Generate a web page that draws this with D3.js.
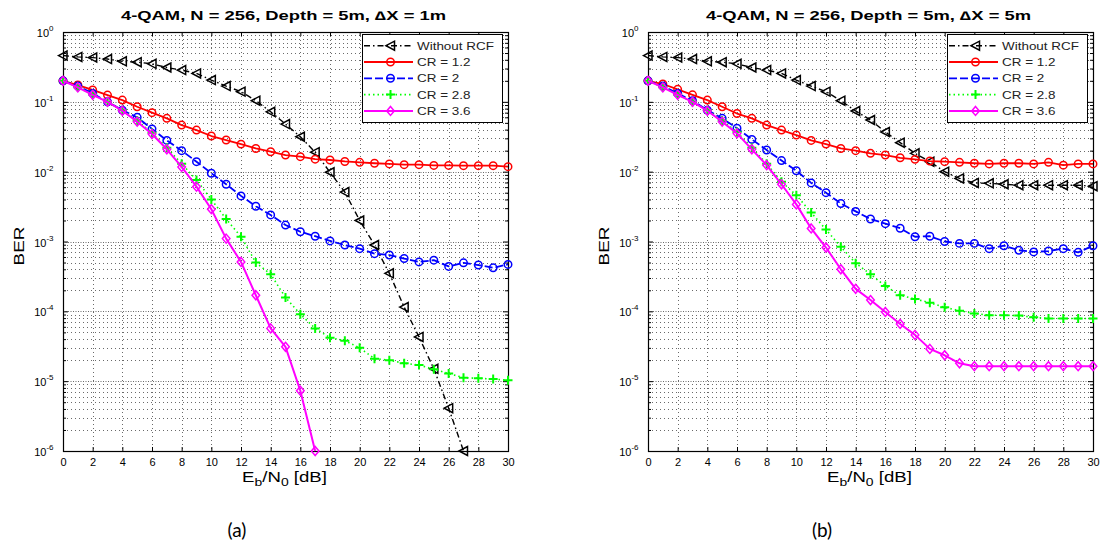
<!DOCTYPE html>
<html>
<head>
<meta charset="utf-8">
<script src="https://cdn.jsdelivr.net/npm/d3@7/dist/d3.min.js"></script>
<style>
  html, body { margin: 0; padding: 0; background: #fff; }
  svg { display: block; font-family: "Liberation Sans", Arial, sans-serif; }
</style>
</head>
<body>
<svg id="chart" width="1102" height="548"></svg>
<script>
// Eb/N0 sample points in dB
const ebn0 = [0,1,2,3,4,5,6,7,8,9,10,11,12,13,14,15,16,17,18,19,20,21,22,23,24,25,26,27,28,29,30];

// Panel (a): delta X = 1 m
const noRcfA = [0.46,0.44,0.43,0.41,0.38,0.37,0.35,0.31,0.285,0.255,0.205,0.168,0.14,0.104,0.072,0.048,0.0316,0.019,0.0098,0.0051,0.002,8.9e-4,3.5e-4,1.15e-4,4.3e-5,1.5e-5,4.1e-6,1.0e-6];
const cr12A = [0.2,0.174,0.148,0.125,0.106,0.085,0.070,0.058,0.0465,0.0394,0.0324,0.0284,0.0248,0.0215,0.0193,0.0173,0.0164,0.0151,0.0147,0.014,0.0136,0.0132,0.0129,0.0126,0.0126,0.0123,0.0123,0.0122,0.0122,0.0122,0.0118];
const cr2A = [0.2,0.168,0.132,0.10,0.076,0.060,0.041,0.028,0.020,0.0139,0.0095,0.0066,0.0045,0.0032,0.0024,1.72e-3,1.38e-3,1.19e-3,1.02e-3,8.9e-4,7.9e-4,6.7e-4,6.4e-4,5.7e-4,5.1e-4,5.4e-4,4.4e-4,4.95e-4,4.6e-4,4.2e-4,4.7e-4];
const cr28A = [0.2,0.162,0.127,0.1,0.076,0.054,0.036,0.022,0.013,0.0076,0.004,0.0021,1.17e-3,5.0e-4,3.4e-4,1.58e-4,9.1e-5,5.7e-5,4.2e-5,3.8e-5,3.0e-5,2.1e-5,2.0e-5,1.8e-5,1.7e-5,1.48e-5,1.29e-5,1.12e-5,1.1e-5,1.07e-5,1.03e-5];
const cr36A = [0.2,0.161,0.126,0.1,0.0746,0.052,0.0346,0.0209,0.0117,0.0061,0.0029,1.1e-3,5.1e-4,1.7e-4,5.7e-5,3.1e-5,7.3e-6,1.0e-6];

// Panel (b): delta X = 5 m
const noRcfB = [0.46,0.44,0.43,0.41,0.38,0.37,0.35,0.31,0.285,0.255,0.205,0.168,0.14,0.104,0.074,0.055,0.037,0.026,0.0183,0.0139,0.010,0.008,0.0069,0.0068,0.0066,0.0064,0.0064,0.0064,0.0064,0.0064,0.0062];
const cr12B = [0.2,0.18,0.151,0.126,0.106,0.085,0.068,0.058,0.0465,0.0394,0.0334,0.028,0.0248,0.0215,0.020,0.0183,0.0173,0.0158,0.015,0.0142,0.0139,0.0136,0.0132,0.0129,0.0132,0.0132,0.0129,0.0136,0.0124,0.0129,0.0129];
const cr2B = [0.2,0.168,0.132,0.104,0.076,0.058,0.042,0.029,0.0204,0.0144,0.0103,0.0069,0.005,0.0035,0.0027,0.0021,0.0018,0.00155,1.17e-3,1.19e-3,1.0e-3,9.4e-4,9.4e-4,7.9e-4,8.7e-4,7.5e-4,7.1e-4,7.3e-4,7.9e-4,7.0e-4,8.7e-4];
const cr28B = [0.2,0.162,0.127,0.1,0.076,0.054,0.037,0.022,0.013,0.0072,0.0046,0.0026,0.00148,8.4e-4,4.9e-4,3.4e-4,2.3e-4,1.7e-4,1.5e-4,1.33e-4,1.14e-4,1.02e-4,9.3e-5,8.8e-5,8.8e-5,8.7e-5,8.2e-5,7.9e-5,7.9e-5,7.9e-5,7.9e-5];
const cr36B = [0.2,0.161,0.126,0.1,0.0746,0.052,0.0353,0.0209,0.0124,0.0066,0.0034,0.00154,8.2e-4,4.0e-4,2.1e-4,1.45e-4,9.8e-5,6.6e-5,4.6e-5,2.9e-5,2.35e-5,1.8e-5,1.64e-5,1.64e-5,1.64e-5,1.64e-5,1.64e-5,1.64e-5,1.64e-5,1.64e-5,1.64e-5];

// Axis ticks and labels
const xTicks = [0,2,4,6,8,10,12,14,16,18,20,22,24,26,28,30];
const yExponents = [0,-1,-2,-3,-4,-5,-6];
const seriesNames = ["Without RCF", "CR = 1.2", "CR = 2", "CR = 2.8", "CR = 3.6"];
const titles = ["4-QAM, N = 256, Depth = 5m, \u2206X = 1m", "4-QAM, N = 256, Depth = 5m, \u2206X = 5m"];
const captions = ["(a)", "(b)"];

// Line/marker styles per series
const styles = [
  { color: "#000000", dash: "6,3,1.5,3", width: 1.4, marker: "triangle" },
  { color: "#ff0000", dash: null, width: 1.8, marker: "circle" },
  { color: "#0000ff", dash: "8,3", width: 1.8, marker: "circle" },
  { color: "#00ff00", dash: "1.5,3", width: 1.6, marker: "plus" },
  { color: "#ff00ff", dash: null, width: 2.0, marker: "diamond" }
];

const markerPaths = {
  triangle: "M-4.5,0L4,-4.5L4,4.5Z",
  circle: d3.symbol(d3.symbolCircle, 44)(),
  plus: "M-4.5,0L4.5,0M0,-4.5L0,4.5",
  diamond: "M0,-4.5L3.8,0L0,4.5L-3.8,0Z"
};

const svg = d3.select("#chart");

// widen text horizontally about its anchor point
function widen(sel, s) {
  sel.each(function () {
    const t = d3.select(this);
    const x = +t.attr("x") || 0;
    t.attr("transform", `matrix(${s},0,0,1,${x * (1 - s)},0)`);
  });
}

function drawMarker(g, type, color, x, y) {
  g.append("path")
    .attr("d", markerPaths[type])
    .attr("transform", `translate(${x},${y})`)
    .attr("fill", "none")
    .attr("stroke", color)
    .attr("stroke-width", type === "plus" ? 2 : 1.5);
}

function drawPanel(idx, left, series) {
  const top = 32, bottom = 451, right = left + 445;
  const x = d3.scaleLinear().domain([0, 30]).range([left, right]);
  const y = d3.scaleLog().domain([1e-6, 1]).range([bottom, top]);
  const g = svg.append("g");

  // grid: minor log lines, decade lines and x lines
  const minor = [];
  for (let e = -6; e < 0; e++) for (let k = 2; k <= 9; k++) minor.push(k * Math.pow(10, e));
  const grid = g.append("g").attr("stroke", "#444").attr("stroke-width", 0.8);
  grid.selectAll(".ym").data(minor).join("line")
    .attr("x1", left).attr("x2", right)
    .attr("y1", d => Math.round(y(d)) + 0.5).attr("y2", d => Math.round(y(d)) + 0.5)
    .attr("stroke-dasharray", "1,3");
  grid.selectAll(".yM").data(yExponents.slice(1, -1)).join("line")
    .attr("x1", left).attr("x2", right)
    .attr("y1", d => Math.round(y(Math.pow(10, d))) + 0.5).attr("y2", d => Math.round(y(Math.pow(10, d))) + 0.5)
    .attr("stroke-dasharray", "1,1.5");
  grid.selectAll(".xg").data(xTicks.slice(1, -1)).join("line")
    .attr("x1", d => Math.round(x(d)) + 0.5).attr("x2", d => Math.round(x(d)) + 0.5)
    .attr("y1", top).attr("y2", bottom)
    .attr("stroke-dasharray", "1,3");

  // axes (ticks inside, box on)
  const axB = d3.axisBottom(x).tickValues(xTicks).tickSizeInner(-4).tickSizeOuter(0).tickPadding(7);
  const axT = d3.axisTop(x).tickValues(xTicks).tickSizeInner(-4).tickSizeOuter(0).tickFormat("");
  const yMajor = yExponents.map(e => Math.pow(10, e));
  const axL = d3.axisLeft(y).tickValues(yMajor).tickSizeInner(-5).tickSizeOuter(0).tickFormat("");
  const axR = d3.axisRight(y).tickValues(yMajor).tickSizeInner(-5).tickSizeOuter(0).tickFormat("");
  const axLm = d3.axisLeft(y).tickValues(minor).tickSizeInner(-3).tickSizeOuter(0).tickFormat("");
  const axRm = d3.axisRight(y).tickValues(minor).tickSizeInner(-3).tickSizeOuter(0).tickFormat("");

  const gB = g.append("g").attr("transform", `translate(0,${bottom})`).call(axB);
  g.append("g").attr("transform", `translate(0,${top})`).call(axT);
  const gL = g.append("g").attr("transform", `translate(${left},0)`).call(axL);
  g.append("g").attr("transform", `translate(${right},0)`).call(axR);
  g.append("g").attr("transform", `translate(${left},0)`).call(axLm);
  g.append("g").attr("transform", `translate(${right},0)`).call(axRm);
  g.selectAll(".domain").remove();
  g.selectAll(".tick line").attr("stroke", "#000").attr("stroke-width", 1);
  gB.selectAll(".tick text").attr("font-size", 11).attr("fill", "#000")
    .attr("font-family", "Liberation Sans, Arial, sans-serif");

  // y tick labels 10^n
  gL.selectAll(".tick").each(function (d) {
    const t = d3.select(this).append("text")
      .attr("x", -9.5).attr("y", 4.5).attr("text-anchor", "end").attr("fill", "#000")
      .attr("font-size", 11).attr("font-family", "Liberation Sans, Arial, sans-serif");
    t.append("tspan").text("10");
    t.append("tspan").attr("dy", -6).attr("font-size", 8).text(Math.round(Math.log10(d)));
  });

  // box
  g.append("rect").attr("x", left + 0.5).attr("y", top + 0.5)
    .attr("width", right - left).attr("height", bottom - top)
    .attr("fill", "none").attr("stroke", "#000").attr("stroke-width", 1.2);

  // series lines and markers
  series.forEach((vals, i) => {
    const st = styles[i];
    const pts = vals.map((v, j) => [ebn0[j], v]);
    const line = d3.line().x(d => x(d[0])).y(d => y(d[1]));
    g.append("path").datum(pts).attr("d", line)
      .attr("fill", "none").attr("stroke", st.color).attr("stroke-width", st.width)
      .attr("stroke-dasharray", st.dash).attr("stroke-linejoin", "round");
    const mg = g.append("g");
    pts.forEach(p => drawMarker(mg, st.marker, st.color, x(p[0]), y(p[1])));
  });

  // legend
  const lx = right - 146, ly = 34;
  const lg = g.append("g");
  lg.append("rect").attr("x", lx + 0.5).attr("y", ly + 0.5).attr("width", 140).attr("height", 88)
    .attr("fill", "#fff").attr("stroke", "#000").attr("stroke-width", 1);
  seriesNames.forEach((name, i) => {
    const st = styles[i];
    const yy = ly + 11.7 + i * 16.3;
    lg.append("line").attr("x1", lx + 2).attr("x2", lx + 51).attr("y1", yy).attr("y2", yy)
      .attr("stroke", st.color).attr("stroke-width", st.width).attr("stroke-dasharray", st.dash);
    drawMarker(lg, st.marker, st.color, lx + 28.5, yy);
    const tx = lg.append("text").attr("x", lx + 55).attr("y", yy + 4).attr("font-size", 11.5)
      .attr("fill", "#222").text(name);
    widen(tx, 1.17);
  });

  // title
  const tt = g.append("text").attr("x", (left + right) / 2 - 2).attr("y", 20.5).attr("text-anchor", "middle")
    .attr("font-size", 12.5).attr("font-weight", "bold").attr("fill", "#000").text(titles[idx]);
  widen(tt, 1.47);

  // y label
  g.append("text").attr("transform", `translate(${left - 39},${246}) rotate(-90) scale(1.22,1)`)
    .attr("text-anchor", "middle").attr("font-size", 15.5).attr("fill", "#000").text("BER");

  // x label
  const xl = g.append("text").attr("x", (left + right) / 2 - 1).attr("y", 482).attr("text-anchor", "middle")
    .attr("font-size", 14).attr("fill", "#000");
  xl.append("tspan").text("E");
  xl.append("tspan").attr("font-size", 10.5).attr("dy", 4).text("b");
  xl.append("tspan").attr("dy", -4).text("/N");
  xl.append("tspan").attr("font-size", 10.5).attr("dy", 4).text("0");
  xl.append("tspan").attr("dy", -4).text(" [dB]");
  widen(xl, 1.33);

  // caption
  g.append("text").attr("x", left + 174).attr("y", 537).attr("text-anchor", "middle")
    .attr("font-size", 19).attr("font-family", "Lato, 'Open Sans', sans-serif").attr("fill", "#000")
    .text(captions[idx]);
}

drawPanel(0, 63, [noRcfA, cr12A, cr2A, cr28A, cr36A]);
drawPanel(1, 648, [noRcfB, cr12B, cr2B, cr28B, cr36B]);
</script>
</body>
</html>
